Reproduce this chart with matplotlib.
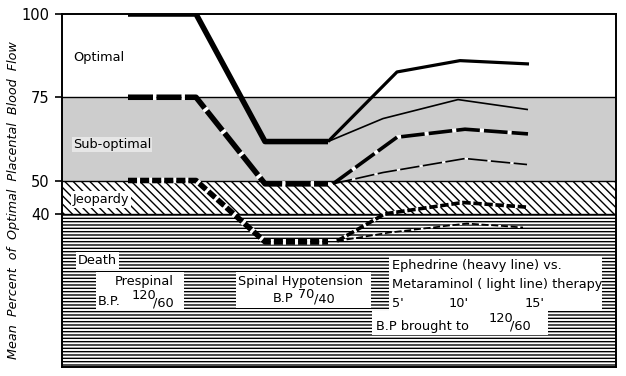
import matplotlib
matplotlib.use('Agg')
import matplotlib.pyplot as plt
from matplotlib.patches import Rectangle

plt.rcParams['lines.scale_dashes'] = False
plt.rcParams['hatch.linewidth'] = 1.0
plt.rcParams['font.family'] = ['DejaVu Sans']

# ---- data (x in arbitrary time-axis units, y = % of optimal flow) ----
x_prespinal = [128, 196]
x_hypotension = [265, 328]
start_levels = [100, 75, 50]
hypo_levels = [61.7, 49, 31.6]

# Ephedrine (heavy) recovery: 0', 5', 10', 15'
eph_x = [[328, 397, 460, 529], [333, 397, 465, 528], [337, 385, 463, 527]]
eph_y = [[61.7, 82.6, 86.0, 85.0], [49.0, 63.0, 65.4, 64.0], [31.8, 40.0, 43.4, 42.0]]
# Metaraminol (light) recovery
met_x = [[328, 383, 458, 528], [333, 383, 465, 527], [337, 390, 467, 523]]
met_y = [[61.7, 68.6, 74.3, 71.3], [49.0, 52.4, 56.6, 54.8], [31.8, 34.4, 37.1, 35.9]]

zone_bounds = [40, 50, 75, 100]
ytick_vals = [40, 50, 75, 100]
time_labels = ["5'", "10'", "15'"]

fig = plt.figure(figsize=(6.26, 3.76), dpi=100)
ax = fig.add_axes([62/626, 1-367/376, 554/626, 353/376])
ax.set_xlim(62, 616)
ax.set_ylim(-6, 100)

# zones
ax.axhspan(75, 100, fc='white', ec='none', zorder=0)
ax.axhspan(50, 75, fc='#cdcdcd', ec='none', zorder=0)
ax.axhspan(40, 50, fc='white', ec='black', hatch='\\\\\\\\', lw=0, zorder=0)
ax.axhspan(-6, 40, fc='white', ec='black', hatch='-----', lw=0, zorder=0)
for b in zone_bounds[:3]:
    ax.axhline(b, color='black', lw=1.0, zorder=1)

# white label panels
for (x0, y0, w, h) in [(96, 11.1, 88, 11.4), (236, 11.7, 135, 10.8),
                       (389, 10.8, 213, 16.4), (372, 3.6, 176, 7.2)]:
    ax.add_patch(Rectangle((x0, y0), w, h, fc='white', ec='none', zorder=2))

# pre-spinal -> hypotension segments
styles_pre = [dict(ls='-', lw=4.0), dict(dashes=(18, 2.5), lw=4.0), dict(dashes=(6.5, 2.2), lw=4.0)]
for lvl, hyp, st in zip(start_levels, hypo_levels, styles_pre):
    ax.plot(x_prespinal + x_hypotension, [lvl, lvl, hyp, hyp], color='black',
            gapcolor='white', solid_capstyle='butt', zorder=3, **st)

# Ephedrine heavy lines
eph_styles = [dict(ls='-', lw=2.3), dict(dashes=(17, 3), lw=2.6), dict(dashes=(6, 2), lw=2.6)]
for xs, ys, st in zip(eph_x, eph_y, eph_styles):
    ax.plot(xs, ys, color='black', gapcolor='white', solid_capstyle='butt', zorder=3, **st)

# Metaraminol light lines
met_styles = [dict(ls='-', lw=1.2), dict(dashes=(14, 2.5), lw=1.2), dict(dashes=(5, 2), lw=1.2)]
for xs, ys, st in zip(met_x, met_y, met_styles):
    ax.plot(xs, ys, color='black', gapcolor='white', solid_capstyle='butt', zorder=3, **st)

# axes styling
for s in ax.spines.values():
    s.set_linewidth(1.4)
ax.set_xticks([])
ax.set_yticks(ytick_vals)
ax.set_yticklabels([str(v) for v in ytick_vals])
ax.tick_params(axis='y', length=5, width=1.2, labelsize=10.5, pad=4)

fig.text(0.022, 0.468, 'Mean  Percent  of  Optimal  Placental  Blood  Flow',
         rotation=90, style='italic', va='center', ha='center', fontsize=9.2)

box = dict(fc='white', ec='none', pad=1.2)
fs = 9.3
kw = dict(fontsize=fs, va='center', ha='left', zorder=4)
ax.text(73, 86.8, 'Optimal', **kw)
ax.text(73, 60.8, 'Sub-optimal', bbox=dict(fc='#e6e6e6', ec='none', pad=0.5), **kw)
ax.text(73, 44.3, 'Jeopardy', bbox=box, **kw)
ax.text(78, 26.0, 'Death', bbox=box, **kw)

# Prespinal block
ax.text(115, 19.8, 'Prespinal', **kw)
ax.text(98, 13.6, 'B.P.', **kw)
ax.text(132, 15.6, '120', **kw)
ax.text(153, 13.2, '/60', **kw)

# Hypotension block
ax.text(238, 19.8, 'Spinal Hypotension', **kw)
ax.text(273, 14.6, 'B.P', **kw)
ax.text(298, 15.8, '70', **kw)
ax.text(314, 14.4, '/40', **kw)

# Therapy block
ax.text(392, 24.6, 'Ephedrine (heavy line) vs.', **kw)
ax.text(392, 18.9, 'Metaraminol ( light line) therapy', **kw)
for xx, lab in zip([392, 449, 525], time_labels):
    ax.text(xx, 13.2, lab, **kw)
ax.text(376, 6.3, 'B.P brought to', **kw)
ax.text(489, 8.6, '120', **kw)
ax.text(510, 6.3, '/60', **kw)

fig.savefig('out.png', dpi=100)
